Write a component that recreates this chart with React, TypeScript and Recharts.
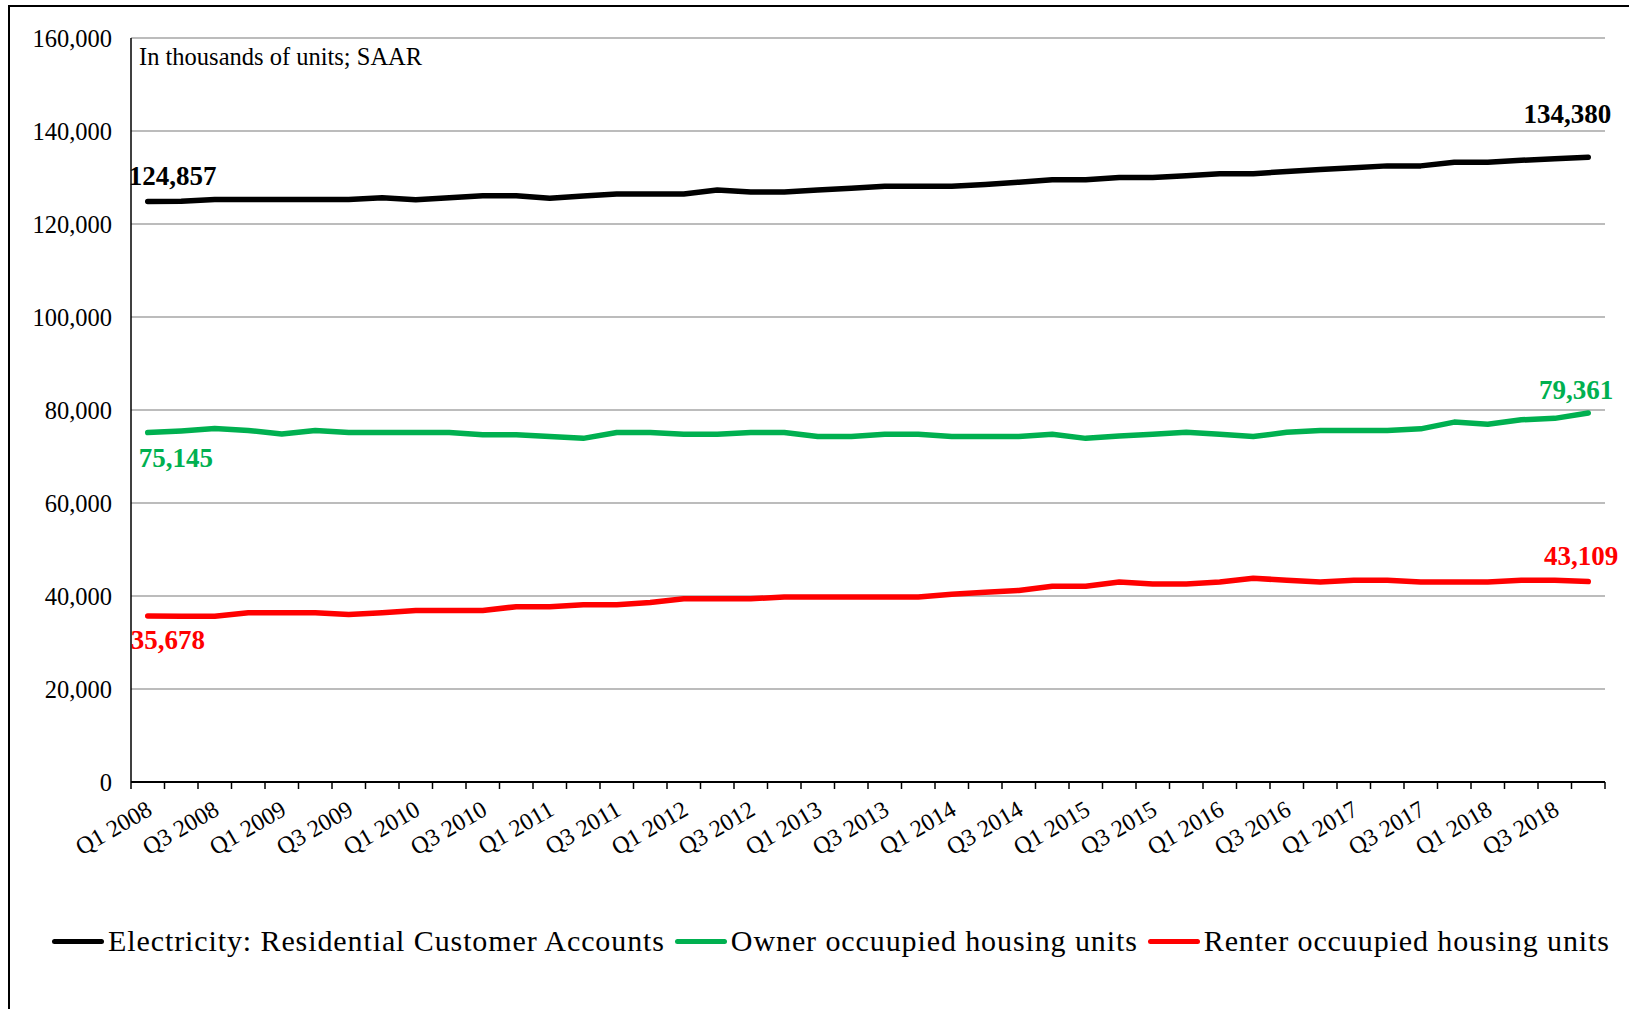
import React from "react";
import { LineChart, Line, XAxis, YAxis, CartesianGrid } from "recharts";

const years = [2008, 2009, 2010, 2011, 2012, 2013, 2014, 2015, 2016, 2017, 2018];
const quarterNames = ["Q1", "Q2", "Q3", "Q4"];
const quarters = years.flatMap((y) => quarterNames.map((q) => `${q} ${y}`));

// thousands of units, SAAR
const electricity = [
  124857, 124900, 125250, 125250, 125250, 125250, 125250, 125650, 125200, 125650, 126050,
  126050, 125550, 126000, 126450, 126450, 126450, 127300, 126900, 126900, 127300, 127700,
  128100, 128100, 128100, 128500, 129000, 129500, 129500, 130000, 130000, 130400, 130800,
  130800, 131300, 131700, 132100, 132500, 132500, 133300, 133300, 133700, 134050, 134380,
];
const owner = [
  75145, 75500, 76000, 75600, 74850, 75600, 75150, 75150, 75150, 75150, 74700,
  74700, 74300, 73900, 75150, 75150, 74800, 74800, 75150, 75150, 74300, 74300,
  74800, 74800, 74300, 74300, 74300, 74800, 73900, 74400, 74800, 75200, 74800,
  74300, 75200, 75600, 75600, 75600, 75950, 77400, 76950, 77900, 78200, 79361,
];
const renter = [
  35678, 35650, 35650, 36400, 36400, 36400, 36000, 36400, 36900, 36900, 36900,
  37700, 37700, 38100, 38100, 38600, 39400, 39400, 39400, 39800, 39800, 39800,
  39800, 39800, 40400, 40800, 41200, 42100, 42100, 43000, 42600, 42600, 43000,
  43800, 43400, 43000, 43400, 43400, 43000, 43000, 43000, 43400, 43400, 43109,
];

const yTicks = [0, 20000, 40000, 60000, 80000, 100000, 120000, 140000, 160000];

const series = [
  { key: "electricity", name: "Electricity: Residential Customer Accounts", color: "#000000" },
  { key: "owner", name: "Owner occuupied housing units", color: "#00b050" },
  { key: "renter", name: "Renter occuupied housing units", color: "#ff0000" },
];

const chartData = quarters.map((q, i) => ({
  quarter: q,
  electricity: electricity[i],
  owner: owner[i],
  renter: renter[i],
}));

const FONT = '"Liberation Serif", "Times New Roman", serif';
const CHART_W = 1619;
const CHART_H = 1000;
const MARGIN = { top: 31, right: 24, left: 21, bottom: 125 };
const Y_W = 100;
const PLOT_W = CHART_W - MARGIN.left - MARGIN.right - Y_W;
const HALF = PLOT_W / quarters.length / 2;
const LAST = quarters.length - 1;

const fmt = (v: number) => v.toLocaleString("en-US");

// end labels: [dy first point, dy last point, dx first, dx last]
const labelPos: Record<string, number[]> = {
  electricity: [-25, -43, -19, 23],
  owner: [25, -23, -9, 25],
  renter: [24, -26, -17, 30],
};

const makeEndLabel = (key: string, color: string) => (props: any) => {
  const { x, y, index, value } = props;
  if (index !== 0 && index !== LAST) return <g key={`${key}-${index}`} />;
  const p = labelPos[key];
  const first = index === 0;
  return (
    <text
      key={`${key}-${index}`}
      x={x + (first ? p[2] : p[3])}
      y={y + (first ? p[0] : p[1])}
      textAnchor={first ? "start" : "end"}
      dominantBaseline="central"
      fill={color}
      fontFamily={FONT}
      fontWeight="bold"
      fontSize={27}
    >
      {fmt(value)}
    </text>
  );
};

const QuarterTick = (props: any) => {
  const { x, y, payload } = props;
  const index = props.index ?? payload.index;
  return (
    <g>
      <line x1={x - HALF} x2={x - HALF} y1={y} y2={y + 7} stroke="#000" strokeWidth={1.5} />
      {index === LAST && (
        <line x1={x + HALF} x2={x + HALF} y1={y} y2={y + 7} stroke="#000" strokeWidth={1.5} />
      )}
      {index % 2 === 0 && (
        <text
          x={x + 6}
          y={y + 32}
          textAnchor="end"
          transform={`rotate(-30, ${x + 6}, ${y + 32})`}
          fontFamily={FONT}
          fontSize={24}
          fill="#000"
        >
          {payload.value}
        </text>
      )}
    </g>
  );
};

const App: React.FC = () => {
  return (
    <div
      style={{
        position: "absolute",
        left: 8,
        top: 5,
        width: 1640,
        height: 1010,
        border: "2px solid #000",
        background: "#fff",
        fontFamily: FONT,
      }}
    >
      <div style={{ position: "relative", width: CHART_W, height: CHART_H }}>
        <LineChart width={CHART_W} height={CHART_H} data={chartData} margin={MARGIN}>
          <CartesianGrid vertical={false} stroke="#a6a6a6" strokeWidth={1.5} />
          <XAxis
            dataKey="quarter"
            interval={0}
            height={100}
            padding={{ left: HALF, right: HALF }}
            axisLine={{ stroke: "#000", strokeWidth: 2 }}
            tickLine={false}
            tickSize={0}
            tickMargin={0}
            tick={<QuarterTick />}
          />
          <YAxis
            width={Y_W}
            domain={[0, 160000]}
            ticks={yTicks}
            tickFormatter={fmt}
            axisLine={{ stroke: "#000", strokeWidth: 1.5 }}
            tickLine={false}
            tickSize={0}
            tickMargin={19}
            tick={{ fontFamily: FONT, fontSize: 24.5, fill: "#000" }}
          />
          {series.map((s) => (
            <Line
              key={s.key}
              dataKey={s.key}
              name={s.name}
              stroke={s.color}
              strokeWidth={5.5}
              strokeLinecap="round"
              strokeLinejoin="round"
              dot={false}
              activeDot={false}
              isAnimationActive={false}
              label={makeEndLabel(s.key, s.color)}
            />
          ))}
        </LineChart>

        <div
          style={{
            position: "absolute",
            left: 129,
            top: 38,
            fontSize: 24.5,
            lineHeight: 1,
            color: "#000",
          }}
        >
          In thousands of units; SAAR
        </div>

        <div
          style={{
            position: "absolute",
            left: 42,
            top: 916,
            display: "flex",
            alignItems: "center",
            whiteSpace: "nowrap",
            fontSize: 30,
            letterSpacing: 0.9,
            lineHeight: "36px",
            color: "#000",
          }}
        >
          {series.map((s) => (
            <div key={s.key} style={{ display: "flex", alignItems: "center", marginRight: 10 }}>
              <span
                style={{
                  display: "inline-block",
                  width: 52,
                  height: 5,
                  borderRadius: 3,
                  background: s.color,
                  marginRight: 4,
                }}
              />
              <span>{s.name}</span>
            </div>
          ))}
        </div>
      </div>
    </div>
  );
};

export default App;
